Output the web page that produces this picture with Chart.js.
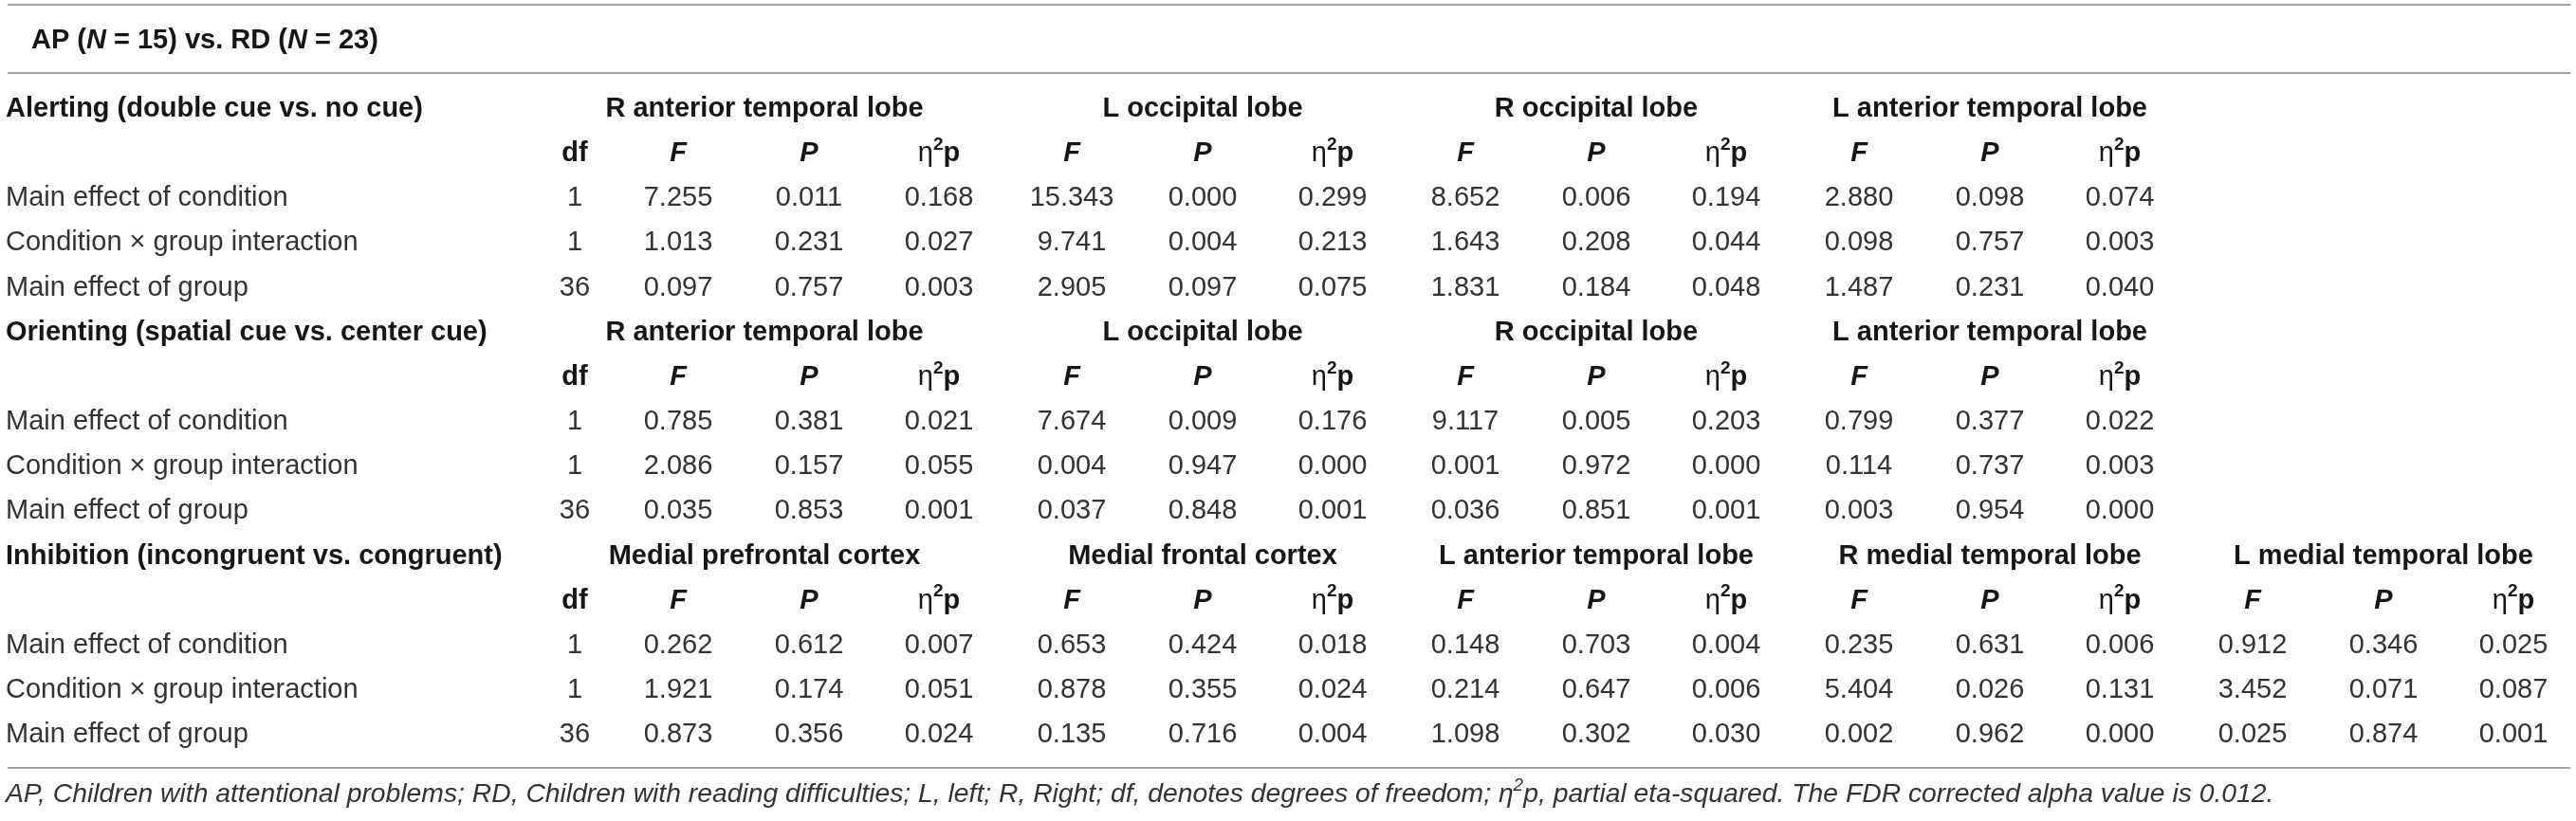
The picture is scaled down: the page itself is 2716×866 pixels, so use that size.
<!DOCTYPE html>
<html><head><meta charset="utf-8">
<script src="https://cdn.jsdelivr.net/npm/chart.js@4.4.1/dist/chart.umd.min.js"></script>
<style>html,body{margin:0;padding:0;background:#fff;overflow:hidden}canvas{display:block}</style>
</head><body>
<canvas id="c" width="2716" height="866" style="width:2716px;height:866px"></canvas>
<script>
// ---------------- DATA ----------------
const sectionTitles = [
  'Alerting (double cue vs. no cue)',
  'Orienting (spatial cue vs. center cue)',
  'Inhibition (incongruent vs. congruent)'
];
const regionsAlerting = ['R anterior temporal lobe','L occipital lobe','R occipital lobe','L anterior temporal lobe'];
const regionsOrienting = ['R anterior temporal lobe','L occipital lobe','R occipital lobe','L anterior temporal lobe'];
const regionsInhibition = ['Medial prefrontal cortex','Medial frontal cortex','L anterior temporal lobe','R medial temporal lobe','L medial temporal lobe'];
const effects = ['Main effect of condition','Condition \u00d7 group interaction','Main effect of group'];
const dfValues = [1, 1, 36];
// each row: [F, P, eta2p] per region
const alertingValues = [
  [7.255,0.011,0.168, 15.343,0.000,0.299, 8.652,0.006,0.194, 2.880,0.098,0.074],
  [1.013,0.231,0.027, 9.741,0.004,0.213, 1.643,0.208,0.044, 0.098,0.757,0.003],
  [0.097,0.757,0.003, 2.905,0.097,0.075, 1.831,0.184,0.048, 1.487,0.231,0.040]
];
const orientingValues = [
  [0.785,0.381,0.021, 7.674,0.009,0.176, 9.117,0.005,0.203, 0.799,0.377,0.022],
  [2.086,0.157,0.055, 0.004,0.947,0.000, 0.001,0.972,0.000, 0.114,0.737,0.003],
  [0.035,0.853,0.001, 0.037,0.848,0.001, 0.036,0.851,0.001, 0.003,0.954,0.000]
];
const inhibitionValues = [
  [0.262,0.612,0.007, 0.653,0.424,0.018, 0.148,0.703,0.004, 0.235,0.631,0.006, 0.912,0.346,0.025],
  [1.921,0.174,0.051, 0.878,0.355,0.024, 0.214,0.647,0.006, 5.404,0.026,0.131, 3.452,0.071,0.087],
  [0.873,0.356,0.024, 0.135,0.716,0.004, 1.098,0.302,0.030, 0.002,0.962,0.000, 0.025,0.874,0.001]
];
const groupSizes = {AP: 15, RD: 23};
const footnote = 'AP, Children with attentional problems; RD, Children with reading difficulties; L, left; R, Right; df, denotes degrees of freedom; ';
const footnoteEnd = 'p, partial eta-squared. The FDR corrected alpha value is 0.012.';

// ---------------- LAYOUT (scale units) ----------------
const W = 2716, H = 866;
const LAYOUT = {
  labelX: 6, headX: 33, dfX: 606, firstF: 715, groupStep: 415, statStep: [0, 138, 275],
  firstHeaderX: 806,
  rowH: 47.15, row0Px: 115,
  headerRow: -1.527, ruleRows: [-2.333, -0.806, 14.74], footRow: 15.33, ruleX0: 8, ruleX1: 2710
};
const yMin = -LAYOUT.row0Px / LAYOUT.rowH;
const yMax = yMin + H / LAYOUT.rowH;
const FONT = '"Liberation Sans", Arial, Helvetica, sans-serif';
const FS = 29, FOOT_FS = 28.3;
const TXT = '#333333', BOLD = '#161616', RULE = '#a3a3a3';

const sections = [
  {title: sectionTitles[0], regions: regionsAlerting, values: alertingValues},
  {title: sectionTitles[1], regions: regionsOrienting, values: orientingValues},
  {title: sectionTitles[2], regions: regionsInhibition, values: inhibitionValues}
];
const colX = (g, k) => LAYOUT.firstF + LAYOUT.groupStep * g + LAYOUT.statStep[k];

// value cells as invisible scatter points positioned by the chart's scales
const datasets = [];
sections.forEach((sec, s) => {
  const pts = [];
  sec.values.forEach((row, r) => {
    const y = s * 5 + 2 + r;
    pts.push({x: LAYOUT.dfX, y, text: String(dfValues[r])});
    row.forEach((v, i) => {
      pts.push({x: colX(Math.floor(i / 3), i % 3), y, text: v.toFixed(3)});
    });
  });
  datasets.push({label: sec.title, data: pts, pointRadius: 0, pointHoverRadius: 0, showLine: false});
});

function drawRuns(ctx, runs, x, y, align) {
  let total = 0;
  runs.forEach(r => { ctx.font = r.font; r.w = ctx.measureText(r.t).width; total += r.w; });
  let cx = align === 'center' ? x - total / 2 : (align === 'right' ? x - total : x);
  runs.forEach(r => {
    ctx.font = r.font; ctx.fillStyle = r.color || TXT;
    ctx.textAlign = 'left'; ctx.textBaseline = 'middle';
    ctx.fillText(r.t, cx, y + (r.dy || 0));
    cx += r.w;
  });
}
const fN = (sz, st) => `${st || ''} ${sz}px ${FONT}`.trim();
function etaRuns(bold, italic, sz) {
  const b = bold ? 'bold ' : '', it = italic ? 'italic ' : '';
  const col = bold ? BOLD : TXT;
  return [
    {t: 'η', font: fN(sz, it), color: col},
    {t: '2', font: fN(Math.round(sz * 0.66), it + b), dy: -sz * 0.33, color: col},
    {t: 'p', font: fN(sz, it + b), color: col}
  ];
}

const tablePlugin = {
  id: 'tablePlugin',
  afterDatasetsDraw(chart) {
    const ctx = chart.ctx, xs = chart.scales.x, ys = chart.scales.y;
    const X = v => xs.getPixelForValue(v), Y = v => ys.getPixelForValue(v);
    ctx.save();
    ctx.strokeStyle = RULE; ctx.lineWidth = 2;
    LAYOUT.ruleRows.forEach(r => {
      const yy = Math.round(Y(r));
      ctx.beginPath(); ctx.moveTo(X(LAYOUT.ruleX0), yy); ctx.lineTo(X(LAYOUT.ruleX1), yy); ctx.stroke();
    });
    const B = fN(FS, 'bold'), BI = fN(FS, 'italic bold');
    drawRuns(ctx, [
      {t: 'AP (', font: B, color: BOLD}, {t: 'N', font: BI, color: BOLD},
      {t: ' = ' + groupSizes.AP + ') vs. RD (', font: B, color: BOLD}, {t: 'N', font: BI, color: BOLD},
      {t: ' = ' + groupSizes.RD + ')', font: B, color: BOLD}
    ], X(LAYOUT.headX), Y(LAYOUT.headerRow), 'left');
    sections.forEach((sec, s) => {
      const ty = Y(s * 5), sy = Y(s * 5 + 1);
      drawRuns(ctx, [{t: sec.title, font: B, color: BOLD}], X(LAYOUT.labelX), ty, 'left');
      sec.regions.forEach((reg, g) => {
        const hx = g === 0 ? LAYOUT.firstHeaderX : colX(g, 1);
        drawRuns(ctx, [{t: reg, font: B, color: BOLD}], X(hx), ty, 'center');
        drawRuns(ctx, [{t: 'F', font: BI, color: BOLD}], X(colX(g, 0)), sy, 'center');
        drawRuns(ctx, [{t: 'P', font: BI, color: BOLD}], X(colX(g, 1)), sy, 'center');
        drawRuns(ctx, etaRuns(true, false, FS), X(colX(g, 2)), sy, 'center');
      });
      drawRuns(ctx, [{t: 'df', font: B, color: BOLD}], X(LAYOUT.dfX), sy, 'center');
      effects.forEach((e, r) => {
        drawRuns(ctx, [{t: e, font: fN(FS)}], X(LAYOUT.labelX), Y(s * 5 + 2 + r), 'left');
      });
    });
    chart.data.datasets.forEach((ds, i) => {
      const meta = chart.getDatasetMeta(i);
      meta.data.forEach((el, j) => {
        drawRuns(ctx, [{t: ds.data[j].text, font: fN(FS)}], el.x, el.y, 'center');
      });
    });
    const FI = fN(FOOT_FS, 'italic');
    drawRuns(ctx, [{t: footnote, font: FI}].concat(etaRuns(false, true, FOOT_FS).slice(0, 2)).concat([{t: footnoteEnd, font: FI}]),
      X(LAYOUT.labelX), Y(LAYOUT.footRow), 'left');
    ctx.restore();
  }
};

new Chart(document.getElementById('c'), {
  type: 'scatter',
  data: {datasets},
  options: {
    responsive: false, animation: false, devicePixelRatio: 1, events: [],
    layout: {padding: 0},
    plugins: {legend: {display: false}, tooltip: {enabled: false}},
    scales: {
      x: {type: 'linear', min: 0, max: W, display: false},
      y: {type: 'linear', min: yMin, max: yMax, reverse: true, display: false}
    }
  },
  plugins: [tablePlugin]
});
</script>
</body></html>
